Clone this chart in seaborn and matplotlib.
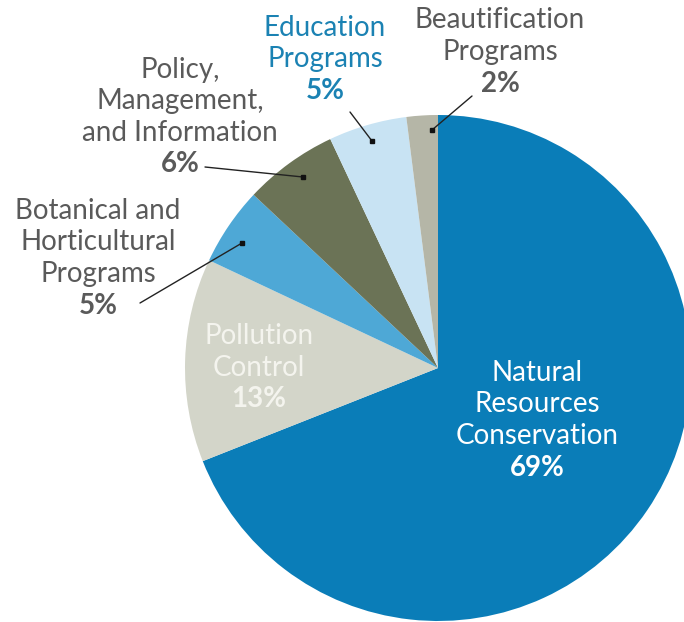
import matplotlib
matplotlib.use("Agg")
import matplotlib.pyplot as plt
import seaborn as sns

# ---- data ----
categories = ["Natural Resources Conservation", "Pollution Control",
              "Botanical and Horticultural Programs",
              "Policy, Management, and Information",
              "Education Programs", "Beautification Programs"]
shares = [69, 13, 5, 6, 5, 2]
colors = ["#0a7db8", "#d3d5c9", "#4ea8d6", "#6b7356", "#c8e3f3", "#b5b6a7"]

sns.set_theme(style="white")
plt.rcParams['font.family'] = ['Lato', 'DejaVu Sans']

W, H = 684, 622
fig = plt.figure(figsize=(W / 100, H / 100), dpi=100)
ax = fig.add_axes([0, 0, 1, 1])

def Y(py):
    return H - py

cx, cy, r = 438, Y(368), 253
ax.pie(shares, colors=sns.color_palette(colors), startangle=90, counterclock=False,
       center=(cx, cy), radius=r, wedgeprops=dict(linewidth=0))
ax.set_xlim(0, W)
ax.set_ylim(0, H)
ax.set_aspect('equal')
ax.axis('off')

gray = "#5a5a5a"
blue = "#1b82b3"
fs = 20

def label(x, lines, pct, y0, color, pct_color=None, dy=31.5):
    for i, t in enumerate(lines):
        ax.text(x, Y(y0 + i * dy), t, ha='center', va='center', fontsize=fs, color=color)
    ax.text(x, Y(y0 + len(lines) * dy), pct, ha='center', va='center', fontsize=fs,
            color=pct_color or color, fontweight='bold')

def pointer(x0, y0, x1, y1):
    ax.plot([x0, x1], [Y(y0), Y(y1)], color="#222222", lw=1.0)
    ax.plot([x1], [Y(y1)], marker='s', ms=3.5, color="#111111")

label(537, ["Natural", "Resources", "Conservation"], f"{shares[0]}%", 373, "white")
label(259, ["Pollution", "Control"], f"{shares[1]}%", 336, "#f4f4ee")
label(98, ["Botanical and", "Horticultural", "Programs"], f"{shares[2]}%", 211, gray)
label(180, ["Policy,", "Management,", "and Information"], f"{shares[3]}%", 70, gray)
label(325, ["Education", "Programs"], f"{shares[4]}%", 28, blue)
label(500, ["Beautification", "Programs"], f"{shares[5]}%", 20, gray, dy=32)

pointer(140, 303, 242, 243)
pointer(205, 167, 303, 177)
pointer(350, 112, 372, 141)
pointer(472, 96, 432, 130)

fig.savefig("out.png", dpi=100)
